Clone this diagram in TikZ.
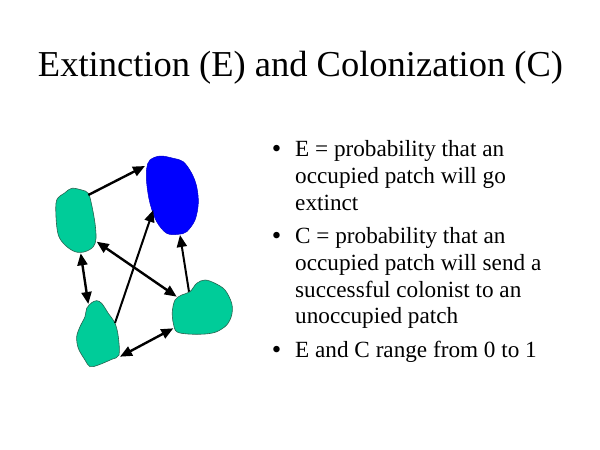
\documentclass[tikz,border=0pt]{standalone}
\usepackage{fontspec}
\setmainfont{Liberation Serif}
\usetikzlibrary{arrows.meta}
\definecolor{patchgreen}{RGB}{0,204,153}
\definecolor{patchedge}{RGB}{40,100,80}
\definecolor{patchblue}{RGB}{0,0,255}
\tikzset{
  greenpatch/.style={fill=patchgreen,draw=patchedge,line width=0.6pt},
  bluepatch/.style={fill=patchblue,draw=patchblue!80!black,line width=0.5pt},
  link/.style={line width=2.4pt,-{Triangle[length=12pt,width=10pt]}},
  dlink/.style={line width=2.4pt,{Triangle[length=12pt,width=10pt]}-{Triangle[length=12pt,width=10pt]}},
  thinlink/.style={line width=2pt,-{Triangle[length=12pt,width=10pt]}},
  titletext/.style={anchor=base,inner sep=0pt,font=\fontsize{36.5}{40}\selectfont},
  bodytext/.style={anchor=base west,inner sep=0pt,font=\fontsize{23.2}{27}\selectfont},
  bullettext/.style={anchor=base,inner sep=0pt,font=\fontsize{27}{30}\selectfont}
}
\begin{document}
\begin{tikzpicture}[x=1pt,y=-1pt]
\fill[white] (0,0) rectangle (600,450);
\useasboundingbox (0,0) rectangle (600,450);

% title
\node[titletext] (title) at (300.5,76) {Extinction (E) and Colonization (C)};

% patches
\draw[greenpatch] plot[smooth cycle,tension=0.55] coordinates {
 (71.7,188.3) (81.7,190) (88.3,193.3) (91.7,205) (95,223.3) (96,238.3)
 (93.3,246.7) (85,251.7) (75,251.7) (65,245) (58.3,235) (56,216.7) (56.7,200) (65,192.7)};
\draw[bluepatch] plot[smooth cycle,tension=0.55] coordinates {
 (150,160) (160,156) (173.3,158.3) (183.3,161.7) (191.7,173.3) (196.7,186.7)
 (198.3,203.3) (195,220) (186.7,231.7) (178.3,234.3) (166.7,233.3) (156.7,221.7)
 (150,203.3) (146.7,183.3) (146.7,168.3)};
\draw[greenpatch] plot[smooth cycle,tension=0.55] coordinates {
 (96.7,300.7) (101.7,303.3) (108.3,313.3) (115,323.3) (118.3,336.7) (119,355)
 (111.7,359.3) (98.3,365) (90,366.7) (85,360) (78.3,348.3) (76.7,336.7)
 (80,326.7) (85,316.7) (86.7,308.3) (91.7,302.7)};
\draw[greenpatch] plot[smooth cycle,tension=0.55] coordinates {
 (175,300) (181.7,295) (190,291.7) (196.7,283.3) (205,280) (215,283.3)
 (225,290) (231.7,303.3) (231.7,315) (226.7,325) (216.7,331.7) (205,334)
 (188.3,334) (176.7,331.7) (173.3,323.3) (172.3,311.7)};

% connector end points
\coordinate (a1s) at (88.3,195);   \coordinate (a1e) at (145,166);
\coordinate (a2s) at (80.7,253.3); \coordinate (a2e) at (88.3,304);
\coordinate (a3s) at (96.7,241.7); \coordinate (a3e) at (176.7,296.7);
\coordinate (a4s) at (115,323);    \coordinate (a4e) at (153.3,210);
\coordinate (a5s) at (120,356.7);  \coordinate (a5e) at (173.3,328.3);
\coordinate (a6s) at (189,291.7);  \coordinate (a6e) at (180,235);

\draw[link] (a1s) -- (a1e);
\draw[dlink] (a2s) -- (a2e);
\draw[dlink] (a3s) -- (a3e);
\draw[thinlink] (a4s) -- (a4e);
\draw[dlink] (a5s) -- (a5e);
\draw[thinlink] (a6s) -- (a6e);

% bullets
\node[bullettext] (b1) at (276.7,157) {•};
\node[bullettext] (b2) at (276.7,244.3) {•};
\node[bullettext] (b3) at (276.7,358.3) {•};

% text lines
\node[bodytext] (t11) at (295,156) {E = probability that an};
\node[bodytext] (t12) at (295,183.3) {occupied patch will go};
\node[bodytext] (t13) at (295,210) {extinct};
\node[bodytext] (t21) at (295,243.3) {C = probability that an};
\node[bodytext] (t22) at (295,270.7) {occupied patch will send a};
\node[bodytext] (t23) at (295,297) {successful colonist to an};
\node[bodytext] (t24) at (295,323.3) {unoccupied patch};
\node[bodytext] (t31) at (295,357.3) {E and C range from 0 to 1};
\end{tikzpicture}
\end{document}
